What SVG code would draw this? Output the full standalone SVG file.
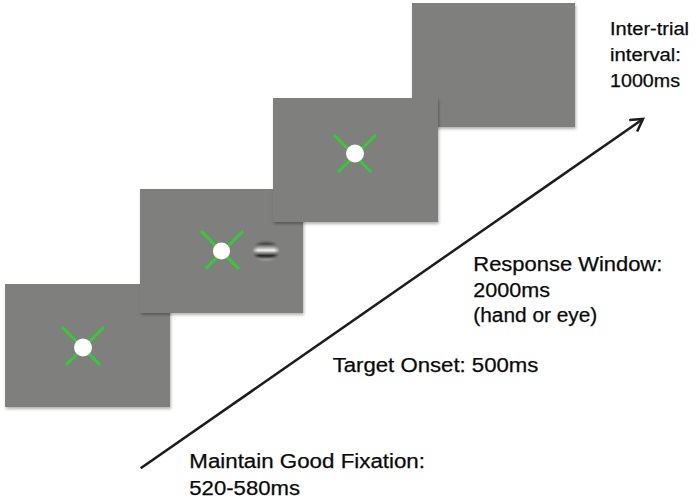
<svg xmlns="http://www.w3.org/2000/svg" width="696" height="504" viewBox="0 0 696 504">
  <style>
    .panel { fill: #7f7f7e; filter: url(#shadow); }
    .cross { stroke: #33cc33; stroke-width: 3; stroke-linecap: butt; fill: none; }
    .dot { fill: #ffffff; }
    .lbl { font-family: "Liberation Sans", Arial, Helvetica, sans-serif; fill: #0a0a0a; stroke: #0a0a0a; stroke-width: 0.25; }
    .big { font-size: 19.5px; }
    .small { font-size: 17.5px; }
    .arrow { stroke: #1c1c1c; stroke-width: 2.5; fill: none; }
  </style>
  <defs>
    <filter id="shadow" x="-10%" y="-10%" width="125%" height="130%">
      <feDropShadow dx="1" dy="2" stdDeviation="1.5" flood-color="#000000" flood-opacity="0.3"/>
    </filter>
    <linearGradient id="stripes" x1="0" y1="0" x2="0" y2="1">
      <stop offset="0" stop-color="#7f7f7e"/>
      <stop offset="0.2" stop-color="#404040"/>
      <stop offset="0.33" stop-color="#9a9a9a"/>
      <stop offset="0.47" stop-color="#f4f4f4"/>
      <stop offset="0.7" stop-color="#202020"/>
      <stop offset="0.86" stop-color="#a8a8a8"/>
      <stop offset="1" stop-color="#7f7f7e"/>
    </linearGradient>
    <radialGradient id="fade" cx="0.5" cy="0.5" r="0.5">
      <stop offset="0" stop-color="#ffffff"/>
      <stop offset="0.6" stop-color="#ffffff"/>
      <stop offset="1" stop-color="#000000"/>
    </radialGradient>
    <mask id="gaborMask" maskContentUnits="userSpaceOnUse">
      <ellipse cx="266" cy="251" rx="14" ry="12" fill="url(#fade)"/>
    </mask>
    <marker id="head" markerWidth="16" markerHeight="16" refX="13" refY="8" orient="auto" markerUnits="userSpaceOnUse">
      <path d="M1,1 L13,8 L1,15" fill="none" stroke="#1c1c1c" stroke-width="2.5"/>
    </marker>
  </defs>

  <g id="panel4">
    <rect class="panel" x="412" y="3" width="163" height="124"/>
  </g>
  <g id="panel1">
    <rect class="panel" x="5" y="284" width="165" height="123"/>
    <path class="cross" d="M62,327 L100,365 M104,327 L66,365"/>
    <circle class="dot" cx="83" cy="347.5" r="9"/>
  </g>
  <g id="panel2">
    <rect class="panel" x="140" y="189" width="163" height="124"/>
    <path class="cross" d="M201,231 L239,269 M243,231 L205.5,269"/>
    <circle class="dot" cx="221.5" cy="251" r="8.5"/>
    <ellipse cx="266" cy="251" rx="14" ry="12" fill="url(#stripes)" mask="url(#gaborMask)"/>
  </g>
  <g id="panel3">
    <rect class="panel" x="273" y="98" width="165" height="124"/>
    <path class="cross" d="M334,135 L371,172 M376,135 L338,172"/>
    <circle class="dot" cx="355" cy="153.5" r="9"/>
  </g>

  <g id="connectors">
    <line class="arrow" x1="140.7" y1="468.3" x2="643" y2="119" marker-end="url(#head)"/>
  </g>

  <g id="labels">
    <g id="label-intertrial" class="lbl small">
      <text x="610" y="35" textLength="79" lengthAdjust="spacingAndGlyphs">Inter-trial</text>
      <text x="610" y="61" textLength="71" lengthAdjust="spacingAndGlyphs">interval:</text>
      <text x="610" y="87" textLength="70" lengthAdjust="spacingAndGlyphs">1000ms</text>
    </g>
    <g id="label-response" class="lbl big">
      <text x="473.3" y="270.7" textLength="189" lengthAdjust="spacingAndGlyphs">Response Window:</text>
      <text x="473.3" y="296.5" textLength="76.7" lengthAdjust="spacingAndGlyphs">2000ms</text>
      <text x="473.3" y="321.7" textLength="124" lengthAdjust="spacingAndGlyphs">(hand or eye)</text>
    </g>
    <g id="label-target" class="lbl big">
      <text x="332.7" y="371.7" textLength="205.7" lengthAdjust="spacingAndGlyphs">Target Onset: 500ms</text>
    </g>
    <g id="label-fixation" class="lbl big">
      <text x="189.3" y="468.3" textLength="235.7" lengthAdjust="spacingAndGlyphs">Maintain Good Fixation:</text>
      <text x="189.3" y="495" textLength="110.7" lengthAdjust="spacingAndGlyphs">520-580ms</text>
    </g>
  </g>
</svg>
